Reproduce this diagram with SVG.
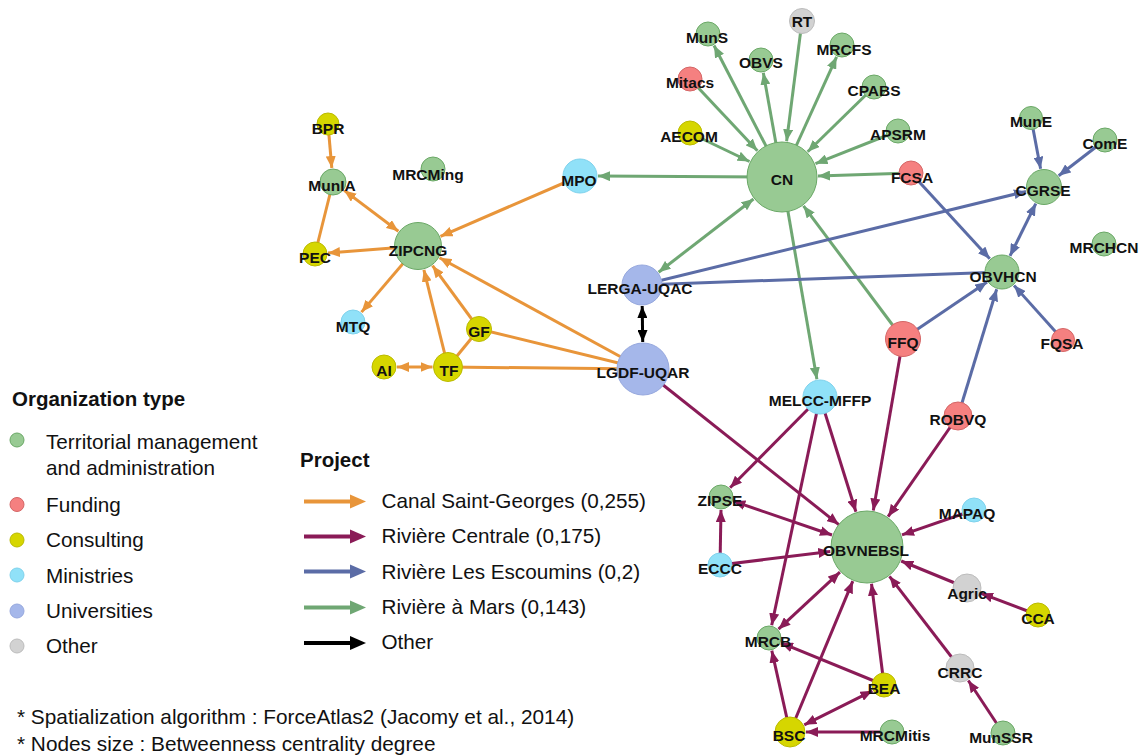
<svg xmlns="http://www.w3.org/2000/svg" width="1140" height="755" viewBox="0 0 1140 755">
<style>
.e{fill:none;stroke-width:3}
.o{stroke:#e8953a}.m{stroke:#8a1b57}.b{stroke:#5b6ca6}.g{stroke:#6fa773}.k{stroke:#000}
.ng{fill:#98ca93;stroke:#6aa866;stroke-width:1}
.nr{fill:#f58080;stroke:#d46666;stroke-width:1}
.ny{fill:#d6d600;stroke:#baba00;stroke-width:1}
.nc{fill:#90e1f8;stroke:#7fd2ec;stroke-width:1}
.nu{fill:#a5b7ea;stroke:#96a8de;stroke-width:1}
.nx{fill:#d2d2d2;stroke:#bcbcbc;stroke-width:1}
.lb{font-family:"Liberation Sans",Arial,sans-serif;font-weight:bold;font-size:15.5px;fill:#111;text-anchor:middle}
.lg{font-family:"Liberation Sans",Arial,sans-serif;font-size:20.7px;fill:#111}
.ft{font-family:"Liberation Sans",Arial,sans-serif;font-size:20.8px;fill:#111}
.lh{font-family:"Liberation Sans",Arial,sans-serif;font-size:20.5px;font-weight:bold;fill:#111}
</style>
<defs>
<marker id="ao" markerUnits="userSpaceOnUse" markerWidth="12" markerHeight="10" refX="12" refY="5" orient="auto-start-reverse"><path d="M0,0 L12,5 L0,10 z" fill="#e8953a"/></marker>
<marker id="am" markerUnits="userSpaceOnUse" markerWidth="12" markerHeight="10" refX="12" refY="5" orient="auto-start-reverse"><path d="M0,0 L12,5 L0,10 z" fill="#8a1b57"/></marker>
<marker id="ab" markerUnits="userSpaceOnUse" markerWidth="12" markerHeight="10" refX="12" refY="5" orient="auto-start-reverse"><path d="M0,0 L12,5 L0,10 z" fill="#5b6ca6"/></marker>
<marker id="ag" markerUnits="userSpaceOnUse" markerWidth="12" markerHeight="10" refX="12" refY="5" orient="auto-start-reverse"><path d="M0,0 L12,5 L0,10 z" fill="#6fa773"/></marker>
<marker id="ak" markerUnits="userSpaceOnUse" markerWidth="12" markerHeight="10" refX="12" refY="5" orient="auto-start-reverse"><path d="M0,0 L12,5 L0,10 z" fill="#000"/></marker>
</defs>
<rect width="1140" height="755" fill="#fff"/>
<g id="connectors">
<g class="e g" marker-end="url(#ag)">
<path d="M782,177 L714,45.5"/>
<path d="M782,177 L763.3,72.8"/>
<path d="M802,21 L786.6,141.3"/>
<path d="M782,177 L836.6,56.8"/>
<path d="M874,87 L807.7,151.8"/>
<path d="M690,79 L757.4,150.7"/>
<path d="M690,133 L749.5,161.5"/>
<path d="M898,131 L815.5,163.7"/>
<path d="M911,173 L818,175.9"/>
<path d="M782,177 L598,176.1"/>
<path d="M658.6,272.2 L753.5,199" marker-start="url(#ag)"/>
<path d="M782,177 L816.9,379.3"/>
<path d="M903,339 L803.5,205.8"/>
</g>
<g class="e b" marker-end="url(#ab)">
<path d="M1031,118 L1040.6,168.8"/>
<path d="M1105,140 L1058.7,175.7"/>
<path d="M1035.8,203.6 L1010,255.9" marker-start="url(#ab)"/>
<path d="M911,173 L989.8,258.8"/>
<path d="M642,285 L1026,191.4"/>
<path d="M642,285 L1002,272" marker-end="none"/>
<path d="M903,339 L987.1,282.1"/>
<path d="M1063,340 L1014,285.4"/>
<path d="M958,416 L996.7,289.2"/>
</g>
<g class="e o" marker-end="url(#ao)">
<path d="M328,124 L331.8,168"/>
<path d="M344.2,190.4 L398.4,231.3" marker-start="url(#ao)"/>
<path d="M333,182 L315,254" marker-end="none"/>
<path d="M418,246 L328,253"/>
<path d="M580,176 L440.5,236.3"/>
<path d="M418,246 L361.5,312.1"/>
<path d="M448,367 L423.9,269.8"/>
<path d="M479,329 L432.5,265.7"/>
<path d="M643,369 L439.5,257.8"/>
<path d="M479,329 L448,367" marker-end="none"/>
<path d="M479,329 L643,369" marker-end="none"/>
<path d="M397,367 L432.5,367" marker-start="url(#ao)"/>
<path d="M448,367 L643,369" marker-end="none"/>
</g>
<path class="e k" d="M642.2,306 L642.7,342" marker-start="url(#ak)" marker-end="url(#ak)"/>
<g class="e m" marker-end="url(#am)">
<path d="M643,369 L838.8,524.6"/>
<path d="M820,397 L730.1,487.8"/>
<path d="M820,397 L771.7,625.3"/>
<path d="M820,397 L855.9,511.7"/>
<path d="M903,339 L873.3,510.5"/>
<path d="M958,416 L888.1,516.6"/>
<path d="M733.3,501.2 L832,535" marker-start="url(#am)"/>
<path d="M720,565 L721,510"/>
<path d="M720,565 L830.3,551.5"/>
<path d="M974,510 L902,534.9"/>
<path d="M967,588 L901.2,561"/>
<path d="M1038,615 L981,593.3"/>
<path d="M960,668 L889.5,576.3"/>
<path d="M1003,733 L968.3,680.5"/>
<path d="M839.9,572.2 L778.5,629.2" marker-start="url(#am)"/>
<path d="M790,732 L852.8,581.2"/>
<path d="M884,685 L871.5,583.7"/>
<path d="M884,685 L781,642.9"/>
<path d="M804.3,724.8 L872.4,690.8" marker-start="url(#am)"/>
<path d="M790,732 L771.8,650.7"/>
<path d="M892,732 L806,732"/>
</g>
</g>
<g id="nodes">
<g id="n-RT"><circle class="nx" cx="802" cy="21" r="12.5"/><text class="lb" x="802" y="27">RT</text></g>
<g id="n-MunS"><circle class="ng" cx="708" cy="34" r="12"/><text class="lb" x="707" y="42.5">MunS</text></g>
<g id="n-OBVS"><circle class="ng" cx="761" cy="60" r="12"/><text class="lb" x="761" y="67.5">OBVS</text></g>
<g id="n-MRCFS"><circle class="ng" cx="842" cy="45" r="12"/><text class="lb" x="844" y="54.5">MRCFS</text></g>
<g id="n-Mitacs"><circle class="nr" cx="690" cy="79" r="12"/><text class="lb" x="690" y="87.5">Mitacs</text></g>
<g id="n-CPABS"><circle class="ng" cx="874" cy="87" r="12"/><text class="lb" x="874" y="95.5">CPABS</text></g>
<g id="n-AECOM"><circle class="ny" cx="690" cy="133" r="12"/><text class="lb" x="689" y="141.5">AECOM</text></g>
<g id="n-APSRM"><circle class="ng" cx="898" cy="131" r="12"/><text class="lb" x="898" y="139.5">APSRM</text></g>
<g id="n-CN"><circle class="ng" cx="782" cy="177" r="35"/><text class="lb" x="782" y="184.5">CN</text></g>
<g id="n-FCSA"><circle class="nr" cx="911" cy="173" r="12"/><text class="lb" x="912" y="182.5">FCSA</text></g>
<g id="n-MPO"><circle class="nc" cx="580" cy="176" r="17"/><text class="lb" x="579" y="185.5">MPO</text></g>
<g id="n-MunE"><circle class="ng" cx="1031" cy="118" r="11.5"/><text class="lb" x="1031" y="126.5">MunE</text></g>
<g id="n-ComE"><circle class="ng" cx="1105" cy="140" r="12"/><text class="lb" x="1105" y="148.5">ComE</text></g>
<g id="n-CGRSE"><circle class="ng" cx="1044" cy="187" r="17.5"/><text class="lb" x="1043" y="195.5">CGRSE</text></g>
<g id="n-MRCHCN"><circle class="ng" cx="1104" cy="244" r="12"/><text class="lb" x="1104" y="252.5">MRCHCN</text></g>
<g id="n-OBVHCN"><circle class="ng" cx="1002" cy="272" r="17"/><text class="lb" x="1003" y="281.5">OBVHCN</text></g>
<g id="n-FFQ"><circle class="nr" cx="903" cy="339" r="17.5"/><text class="lb" x="903" y="347.5">FFQ</text></g>
<g id="n-FQSA"><circle class="nr" cx="1063" cy="340" r="11.5"/><text class="lb" x="1062" y="348.5">FQSA</text></g>
<g id="n-ROBVQ"><circle class="nr" cx="958" cy="416" r="14"/><text class="lb" x="958" y="424.5">ROBVQ</text></g>
<g id="n-MELCC-MFFP"><circle class="nc" cx="820" cy="397" r="17"/><text class="lb" x="820" y="405.5">MELCC-MFFP</text></g>
<g id="n-LERGA-UQAC"><circle class="nu" cx="642" cy="285" r="20"/><text class="lb" x="640" y="293.5">LERGA-UQAC</text></g>
<g id="n-LGDF-UQAR"><circle class="nu" cx="643" cy="369" r="26"/><text class="lb" x="643" y="377.5">LGDF-UQAR</text></g>
<g id="n-ZIPCNG"><circle class="ng" cx="418" cy="246" r="23.5"/><text class="lb" x="418" y="255.5">ZIPCNG</text></g>
<g id="n-BPR"><circle class="ny" cx="328" cy="124" r="11"/><text class="lb" x="328" y="133.5">BPR</text></g>
<g id="n-MunIA"><circle class="ng" cx="333" cy="182" r="13"/><text class="lb" x="332" y="190.5">MunIA</text></g>
<g id="n-MRCMing"><circle class="ng" cx="433" cy="169" r="12"/><text class="lb" x="428" y="179.5">MRCMing</text></g>
<g id="n-PEC"><circle class="ny" cx="315" cy="254" r="12"/><text class="lb" x="315" y="262.5">PEC</text></g>
<g id="n-MTQ"><circle class="nc" cx="353" cy="322" r="12"/><text class="lb" x="353" y="331.5">MTQ</text></g>
<g id="n-GF"><circle class="ny" cx="479" cy="329" r="12.5"/><text class="lb" x="479" y="336.5">GF</text></g>
<g id="n-AI"><circle class="ny" cx="384" cy="367" r="12"/><text class="lb" x="384" y="375.5">AI</text></g>
<g id="n-TF"><circle class="ny" cx="448" cy="367" r="14.5"/><text class="lb" x="449" y="375.5">TF</text></g>
<g id="n-ZIPSE"><circle class="ng" cx="721" cy="497" r="12"/><text class="lb" x="720" y="505.5">ZIPSE</text></g>
<g id="n-MAPAQ"><circle class="nc" cx="974" cy="510" r="12"/><text class="lb" x="967" y="518.5">MAPAQ</text></g>
<g id="n-OBVNEBSL"><circle class="ng" cx="867" cy="547" r="36"/><text class="lb" x="866" y="556">OBVNEBSL</text></g>
<g id="n-ECCC"><circle class="nc" cx="720" cy="565" r="12"/><text class="lb" x="720" y="573.5">ECCC</text></g>
<g id="n-Agric"><circle class="nx" cx="967" cy="588" r="14"/><text class="lb" x="967" y="598.5">Agric</text></g>
<g id="n-CCA"><circle class="ny" cx="1038" cy="615" r="12"/><text class="lb" x="1038" y="623.5">CCA</text></g>
<g id="n-MRCB"><circle class="ng" cx="769" cy="638" r="12"/><text class="lb" x="768" y="647">MRCB</text></g>
<g id="n-CRRC"><circle class="nx" cx="960" cy="668" r="14"/><text class="lb" x="960" y="677.5">CRRC</text></g>
<g id="n-BEA"><circle class="ny" cx="884" cy="685" r="12"/><text class="lb" x="884" y="693.5">BEA</text></g>
<g id="n-BSC"><circle class="ny" cx="790" cy="732" r="15"/><text class="lb" x="789" y="740.5">BSC</text></g>
<g id="n-MRCMitis"><circle class="ng" cx="892" cy="732" r="12"/><text class="lb" x="895" y="740.5">MRCMitis</text></g>
<g id="n-MunSSR"><circle class="ng" cx="1003" cy="733" r="12"/><text class="lb" x="1001" y="742.5">MunSSR</text></g>
</g>
<g id="legend-org">
<text class="lh" x="12" y="405.5">Organization type</text>
<circle class="ng" cx="17" cy="440" r="7" stroke="none"/>
<circle class="nr" cx="17" cy="504.5" r="7" stroke="none"/>
<circle class="ny" cx="17" cy="540" r="7" stroke="none"/>
<circle class="nc" cx="17" cy="575" r="7" stroke="none"/>
<circle class="nu" cx="17" cy="611" r="7" stroke="none"/>
<circle class="nx" cx="17" cy="646" r="7" stroke="none"/>
<text class="lg" x="46" y="448.5">Territorial management</text>
<text class="lg" x="46" y="475">and administration</text>
<text class="lg" x="46" y="511.5">Funding</text>
<text class="lg" x="46" y="547">Consulting</text>
<text class="lg" x="46" y="582.5">Ministries</text>
<text class="lg" x="46" y="617.5">Universities</text>
<text class="lg" x="46" y="652.5">Other</text>
</g>
<g id="legend-project">
<text class="lh" x="300" y="466.5">Project</text>
<path d="M304,501.5 H352" stroke="#e8953a" stroke-width="4"/><path d="M350,494.5 L366,501.5 L350,508.5 z" fill="#e8953a"/>
<path d="M304,536.5 H352" stroke="#8a1b57" stroke-width="4"/><path d="M350,529.5 L366,536.5 L350,543.5 z" fill="#8a1b57"/>
<path d="M304,571.5 H352" stroke="#5b6ca6" stroke-width="4"/><path d="M350,564.5 L366,571.5 L350,578.5 z" fill="#5b6ca6"/>
<path d="M304,607.5 H352" stroke="#6fa773" stroke-width="4"/><path d="M350,600.5 L366,607.5 L350,614.5 z" fill="#6fa773"/>
<path d="M304,643 H352" stroke="#000" stroke-width="4"/><path d="M350,636 L366,643 L350,650 z" fill="#000"/>
<text class="lg" x="381.5" y="507.5">Canal Saint-Georges (0,255)</text>
<text class="lg" x="381.5" y="543">Rivière Centrale (0,175)</text>
<text class="lg" x="381.5" y="578.5">Rivière Les Escoumins (0,2)</text>
<text class="lg" x="381.5" y="614">Rivière à Mars (0,143)</text>
<text class="lg" x="381.5" y="649">Other</text>
</g>
<g id="notes">
<text class="ft" x="17" y="724">* Spatialization algorithm : ForceAtlas2 (Jacomy et al., 2014)</text>
<text class="ft" x="17" y="751">* Nodes size : Betweenness centrality degree</text>
</g>
</svg>
